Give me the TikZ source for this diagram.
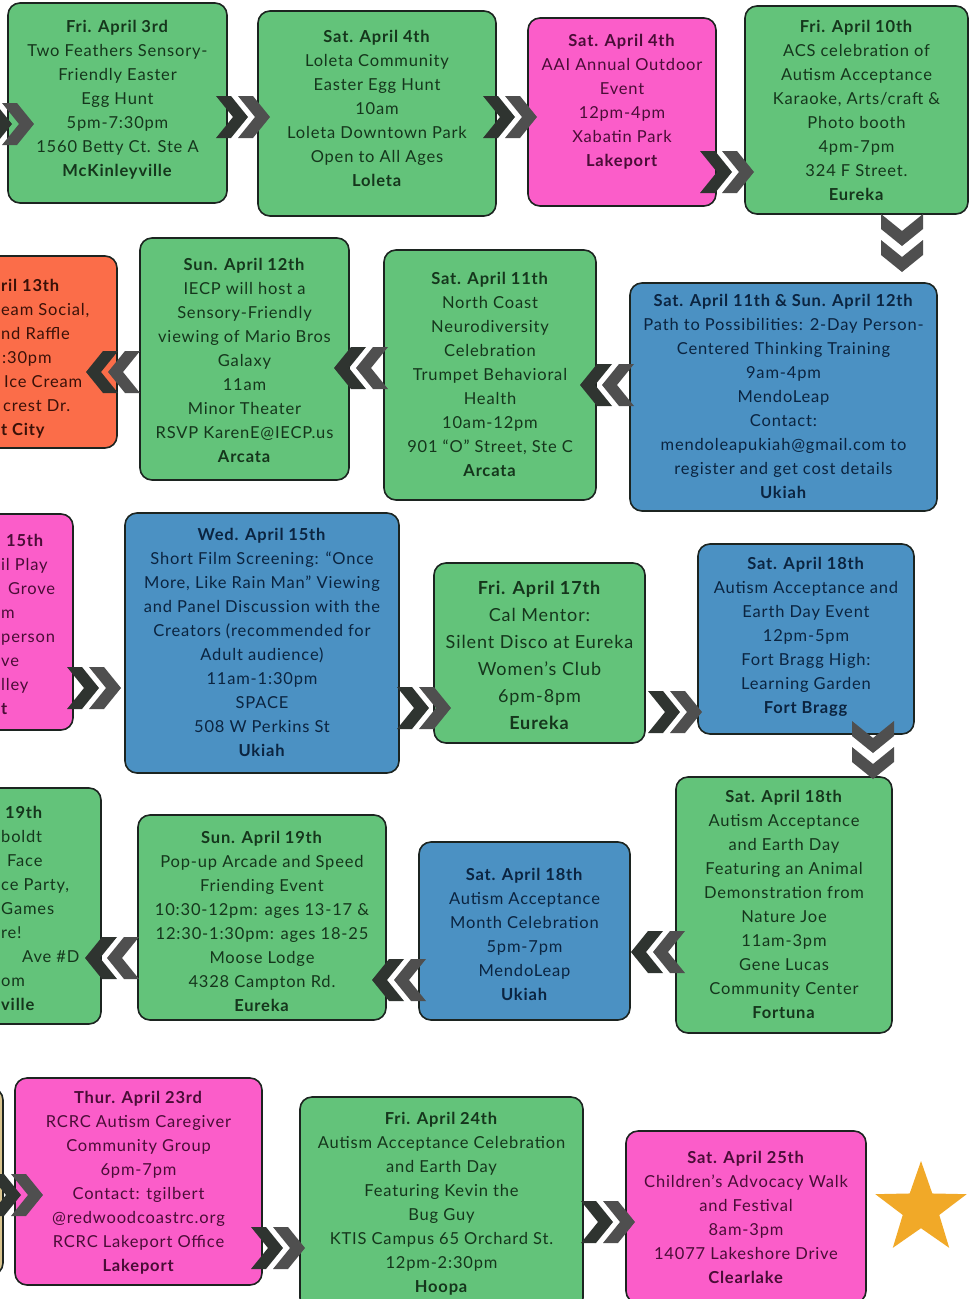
\documentclass[tikz,border=0pt]{standalone}
\usepackage{fontspec}
\setmainfont[LetterSpace=5]{Lato}
\usetikzlibrary{shapes.geometric}
\definecolor{gfill}{HTML}{63C37A}
\definecolor{pfill}{HTML}{FB5DC9}
\definecolor{bfill}{HTML}{4B91C3}
\definecolor{ofill}{HTML}{FB6D49}
\definecolor{yfill}{HTML}{D9C48E}
\definecolor{gtext}{HTML}{15361C}
\definecolor{ptext}{HTML}{4A0D37}
\definecolor{btext}{HTML}{0B2440}
\definecolor{otext}{HTML}{3A1108}
\definecolor{ytext}{HTML}{3A3010}
\definecolor{bord}{HTML}{1C2420}
\definecolor{chevd}{HTML}{2F3430}
\definecolor{chevg}{HTML}{4F4F4F}
\definecolor{starc}{HTML}{F1A928}
\tikzset{
  box/.style={draw=bord, line width=1.6, rounded corners=12, inner sep=0, outer sep=0},
  txt/.style={align=center, inner sep=0, font=\fontsize{16.5}{24}\selectfont},
  chev/.pic={\fill[pic actions] (-16,-21) -- (-1,-21) -- (16,0) -- (-1,21) -- (-16,21) -- (1,0) -- cycle;}
}
% name, x1, y1, x2, y2, colour key, text dy, text
\newcommand\ev[8]{%
  \node[box,fill=#6fill,minimum width={(#4)-(#2)},minimum height={(#5)-(#3)}] (#1) at ({((#2)+(#4))/2},{((#3)+(#5))/2}) {};
  \node[txt,text=#6text] (#1-t) at ({((#2)+(#4))/2},{((#3)+(#5))/2+(#7)}) {#8};}
% name, left x, centre y, colour, text  (lines of boxes that run off the left edge)
\newcommand\frag[5]{\node[txt,text=#4,anchor=base west] (#1) at (#2,{(#3)+6}) {#5};}
\newcommand\chR[2]{\pic[fill=chevd] at ({#1-11},#2) {chev}; \pic[fill=chevg] at ({#1+11},#2) {chev};}
\newcommand\chL[2]{\pic[fill=chevd,rotate=180] at ({#1-11},#2) {chev}; \pic[fill=chevg,rotate=180] at ({#1+11},#2) {chev};}
\newcommand\chD[2]{\pic[fill=chevg,rotate=-90] at (#1,{#2-13}) {chev}; \pic[fill=chevg,rotate=-90] at (#1,{#2+13}) {chev};}
\begin{document}
\begin{tikzpicture}[x=1pt,y=-1pt]
\useasboundingbox (0,0) rectangle (975,1299);
\clip (0,0) rectangle (975,1299);
\fill[white] (0,0) rectangle (975,1299);

% ---- row 1
\ev{b1}{8}{3}{227}{203}{g}{-3}{\textbf{Fri. April 3rd}\\Two Feathers Sensory-\\Friendly Easter\\Egg Hunt\\5pm-7:30pm\\1560 Betty Ct. Ste A\\\textbf{McKinleyville}}
\ev{b2}{258}{11}{496}{216}{g}{-5}{\textbf{Sat. April 4th}\\Loleta Community\\Easter Egg Hunt\\10am\\Loleta Downtown Park\\Open to All Ages\\\textbf{Loleta}}
\ev{b3}{528}{18}{716}{206}{p}{-10}{\textbf{Sat. April 4th}\\AAI Annual Outdoor\\Event\\12pm-4pm\\Xabatin Park\\\textbf{Lakeport}}
\ev{b4}{745}{6}{968}{214}{g}{0}{\textbf{Fri. April 10th}\\ACS celebration of\\Autism Acceptance\\Karaoke, Arts/craft \&\\Photo booth\\4pm-7pm\\324 F Street.\\\textbf{Eureka}}

% ---- row 2
\node[box,fill=ofill,minimum width=267,minimum height=192] (o13) at (-16.5,352) {};
\frag{o13a}{1}{285}{otext}{\textbf{ril 13th}}
\frag{o13b}{1}{309}{otext}{eam Social,}
\frag{o13c}{1}{333}{otext}{nd Raffle}
\frag{o13d}{2}{357}{otext}{:30pm}
\frag{o13e}{4}{381}{otext}{Ice Cream}
\frag{o13f}{3}{405}{otext}{crest Dr.}
\frag{o13g}{1}{429}{otext}{\textbf{t City}}
\ev{s12}{140}{238}{349}{480}{g}{1}{\textbf{Sun. April 12th}\\IECP will host a\\Sensory-Friendly\\viewing of Mario Bros\\Galaxy\\11am\\Minor Theater\\RSVP KarenE@IECP.us\\\textbf{Arcata}}
\ev{s11}{384}{250}{596}{500}{g}{-1}{\textbf{Sat. April 11th}\\North Coast\\Neurodiversity\\Celebration\\Trumpet Behavioral\\Health\\10am-12pm\\901 “O” Street, Ste C\\\textbf{Arcata}}
\ev{t1112}{630}{283}{937}{511}{b}{-1}{\textbf{Sat. April 11th \& Sun. April 12th}\\Path to Possibilities: 2-Day Person-\\Centered Thinking Training\\9am-4pm\\MendoLeap\\Contact:\\mendoleapukiah@gmail.com to\\register and get cost details\\\textbf{Ukiah}}

% ---- row 3
\node[box,fill=pfill,minimum width=223,minimum height=216] (p15) at (-38.5,622) {};
\frag{p15a}{6}{540}{ptext}{\textbf{15th}}
\frag{p15b}{1}{564}{ptext}{il Play}
\frag{p15c}{8}{588}{ptext}{Grove}
\frag{p15d}{1}{612}{ptext}{m}
\frag{p15e}{1}{636}{ptext}{person}
\frag{p15f}{1}{660}{ptext}{ve}
\frag{p15g}{1}{684}{ptext}{lley}
\frag{p15h}{1}{708}{ptext}{\textbf{t}}
\ev{w15}{125}{513}{399}{773}{b}{-1}{\textbf{Wed. April 15th}\\Short Film Screening: “Once\\More, Like Rain Man” Viewing\\and Panel Discussion with the\\Creators (recommended for\\Adult audience)\\11am-1:30pm\\SPACE\\508 W Perkins St\\\textbf{Ukiah}}
\node[box,fill=gfill,minimum width=211,minimum height=180] (f17) at (539.5,653) {};
\node[txt,text=gtext,font=\fontsize{18}{27}\selectfont] (f17-t) at (539.5,655) {\textbf{Fri. April 17th}\\Cal Mentor:\\Silent Disco at Eureka\\Women’s Club\\6pm-8pm\\\textbf{Eureka}};
\ev{s18fb}{698}{544}{914}{734}{b}{-2}{\textbf{Sat. April 18th}\\Autism Acceptance and\\Earth Day Event\\12pm-5pm\\Fort Bragg High:\\Learning Garden\\\textbf{Fort Bragg}}

% ---- row 4
\node[box,fill=gfill,minimum width=251,minimum height=236] (g19) at (-24.5,906) {};
\frag{g19a}{5}{812}{gtext}{\textbf{19th}}
\frag{g19b}{1}{836}{gtext}{boldt}
\frag{g19c}{7}{860}{gtext}{Face}
\frag{g19d}{1}{884}{gtext}{ce Party,}
\frag{g19e}{1}{908}{gtext}{Games}
\frag{g19f}{1}{932}{gtext}{re!}
\frag{g19g}{22}{956}{gtext}{Ave \#D}
\frag{g19h}{1}{980}{gtext}{om}
\frag{g19i}{1}{1004}{gtext}{\textbf{ville}}
\ev{s19}{138}{815}{386}{1020}{g}{4}{\textbf{Sun. April 19th}\\Pop-up Arcade and Speed\\Friending Event\\10:30-12pm: ages 13-17 \&\\12:30-1:30pm: ages 18-25\\Moose Lodge\\4328 Campton Rd.\\\textbf{Eureka}}
\ev{s18u}{419}{842}{630}{1020}{b}{3}{\textbf{Sat. April 18th}\\Autism Acceptance\\Month Celebration\\5pm-7pm\\MendoLeap\\\textbf{Ukiah}}
\ev{s18f}{676}{777}{892}{1033}{g}{-1}{\textbf{Sat. April 18th}\\Autism Acceptance\\and Earth Day\\Featuring an Animal\\Demonstration from\\Nature Joe\\11am-3pm\\Gene Lucas\\Community Center\\\textbf{Fortuna}}

% ---- row 5
\node[box,fill=yfill,minimum width=153,minimum height=187] (l5) at (-73.5,1181.5) {};
\ev{t23}{15}{1078}{262}{1285}{p}{1}{\textbf{Thur. April 23rd}\\RCRC Autism Caregiver\\Community Group\\6pm-7pm\\Contact: tgilbert\\@redwoodcoastrc.org\\RCRC Lakeport Office\\\textbf{Lakeport}}
\ev{f24}{300}{1097}{583}{1310}{g}{0}{\textbf{Fri. April 24th}\\Autism Acceptance Celebration\\and Earth Day\\Featuring Kevin the\\Bug Guy\\KTIS Campus 65 Orchard St.\\12pm-2:30pm\\\textbf{Hoopa}}
\ev{s25}{626}{1131}{866}{1303}{p}{0}{\textbf{Sat. April 25th}\\Children’s Advocacy Walk\\and Festival\\8am-3pm\\14077 Lakeshore Drive\\\textbf{Clearlake}}
\node[star,star points=5,star point ratio=2.5,fill=starc,minimum size=96,inner sep=0] (star) at (921,1209) {};

% ---- chevrons
\chR{7}{124}
\chR{243}{117}
\chR{510}{117}
\chR{727}{172}
\chD{902}{243}
\chL{113}{372}
\chL{361}{368}
\chL{607}{385}
\chR{94}{688}
\chR{424}{708}
\chR{675}{712}
\chD{873}{750}
\chL{112}{958}
\chL{399}{980}
\chL{658}{952}
\chR{16}{1195}
\chR{278}{1248}
\chR{608}{1222}
\end{tikzpicture}
\end{document}
